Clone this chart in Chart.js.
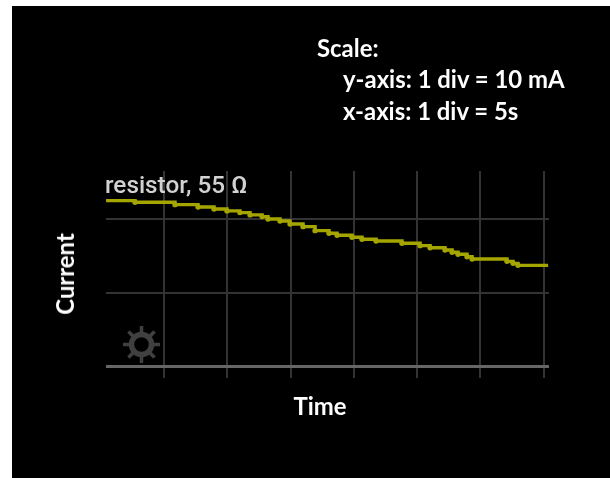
<!DOCTYPE html>
<html>
<head>
<meta charset="utf-8">
<style>
  html, body { margin: 0; padding: 0; background: #fff; width: 610px; height: 478px; overflow: hidden; }
  #panel { position: absolute; left: 12px; top: 6px; right: 0; bottom: 0; background: #000; }
  #wrap { position: absolute; left: 0; top: 0; width: 610px; height: 478px; }
  .lbl { position: absolute; color: #fff; font: bold 23.9px Lato, sans-serif; white-space: nowrap; line-height: 24px; }
  #resistor { font: 500 24.3px Roboto, sans-serif; color: #d2d2d2; }
  #ylabel { transform: translate(-50%, -50%) rotate(-90deg); }
  #xlabel { transform: translateX(-50%); }
</style>
</head>
<body>
<div id="panel"></div>
<div id="wrap"><canvas id="chart" width="610" height="478"></canvas></div>
<div class="lbl" style="left:317px;top:36px">Scale:</div>
<div class="lbl" style="left:343px;top:67px">y-axis: 1 div = 10 mA</div>
<div class="lbl" style="left:343px;top:99px">x-axis: 1 div = 5s</div>
<div class="lbl" id="resistor" style="left:105px;top:170px">resistor, 55 Ω</div>
<div class="lbl" id="ylabel" style="left:65px;top:274px">Current</div>
<div class="lbl" id="xlabel" style="left:320px;top:394px">Time</div>
<script src="https://cdn.jsdelivr.net/npm/chart.js@4"></script>
<script>
// time in seconds, current in mA
const times = [0.42, 2.71, 5.87, 7.69, 8.95, 9.98, 11.0, 11.8, 12.75, 13.22, 14.17, 14.96, 15.99, 16.94, 18.04, 18.68, 19.86, 20.65, 21.76, 23.81, 25.24, 26.03, 27.21, 27.77, 28.24, 28.95, 29.35, 32.11, 32.59, 32.98, 35.36];
const currents = [22.49, 22.28, 21.95, 21.64, 21.37, 21.10, 20.87, 20.56, 20.33, 20.01, 19.74, 19.34, 18.97, 18.43, 18.08, 17.80, 17.53, 17.26, 17.03, 16.72, 16.40, 16.12, 15.81, 15.50, 15.23, 14.90, 14.59, 14.28, 14.01, 13.74, 13.74];
const xDivs = [5, 10, 15, 20, 25, 30, 35];
const yDivs = [0, 10, 20];

// gear icon sitting on the plot
const gearPlugin = {
  id: "gear",
  afterDatasetsDraw(chart) {
    const ctx = chart.ctx;
    ctx.save();
    ctx.translate(141.5, 344.5);
    ctx.strokeStyle = "#404040";
    ctx.lineWidth = 5.5;
    ctx.beginPath();
    ctx.arc(0, 0, 10, 0, Math.PI * 2);
    ctx.stroke();
    ctx.lineWidth = 3.5;
    for (let i = 0; i < 8; i++) {
      ctx.rotate(Math.PI / 4);
      ctx.beginPath();
      ctx.moveTo(0, -10);
      ctx.lineTo(0, -18.5);
      ctx.stroke();
    }
    ctx.restore();
  }
};

new Chart(document.getElementById("chart"), {
  type: "line",
  plugins: [gearPlugin],
  data: {
    datasets: [{
      data: times.map((t, i) => ({ x: t, y: currents[i] })),
      borderColor: "#a5a500",
      backgroundColor: "#a5a500",
      borderWidth: 3.4,
      stepped: true,
      pointRadius: (c) => (c.dataIndex === 0 || c.dataIndex === times.length - 1 ? 0 : 2.7),
      pointBorderWidth: 0
    }]
  },
  options: {
    responsive: false,
    animation: false,
    layout: { padding: { left: 106, top: 171, right: 61, bottom: 100 } },
    plugins: { legend: { display: false }, tooltip: { enabled: false } },
    scales: {
      x: {
        type: "linear",
        min: 0.415,
        max: 35.43,
        afterBuildTicks: (axis) => { axis.ticks = xDivs.map(v => ({ value: v })); },
        ticks: { display: false },
        border: { display: false },
        grid: { color: "#333", lineWidth: 2, drawTicks: false }
      },
      y: {
        min: -1.5,
        max: 26.5,
        afterBuildTicks: (axis) => { axis.ticks = yDivs.map(v => ({ value: v })); },
        ticks: { display: false },
        border: { display: false },
        grid: {
          color: (c) => (c.tick.value === 0 ? "#666" : "#333"),
          lineWidth: (c) => (c.tick.value === 0 ? 3 : 2),
          drawTicks: false
        }
      }
    }
  }
});
</script>
</body>
</html>
